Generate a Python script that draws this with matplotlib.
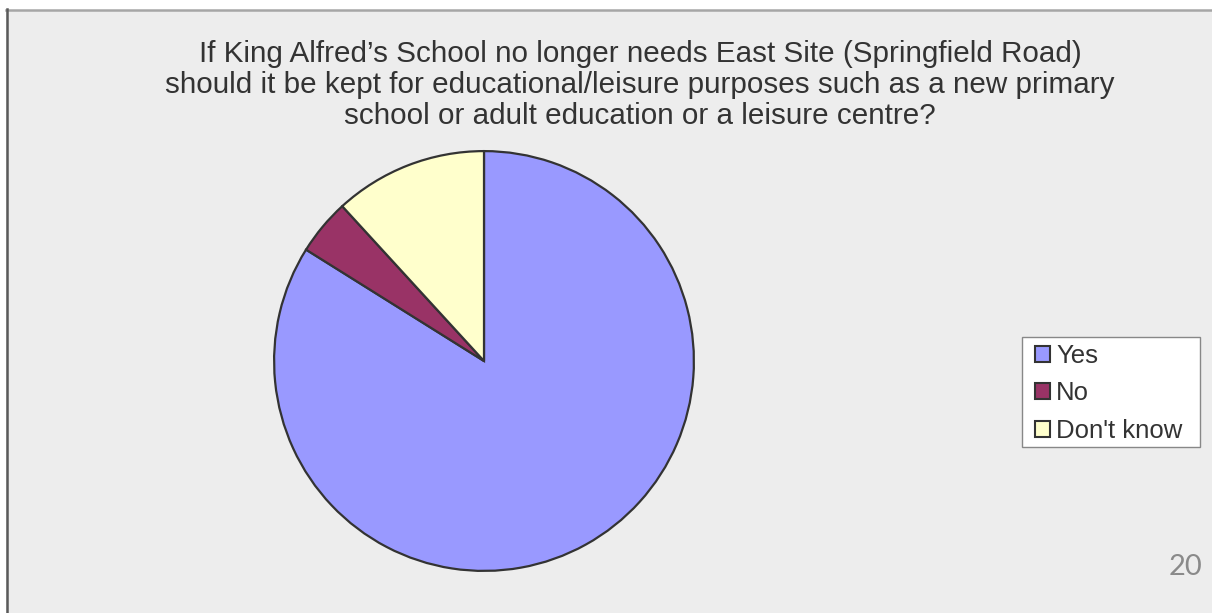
import matplotlib.pyplot as plt
from matplotlib.patches import Rectangle, Patch
from matplotlib.lines import Line2D

plt.rcParams['font.family'] = ['Liberation Sans', 'DejaVu Sans']

title = ("If King Alfred\u2019s School no longer needs East Site (Springfield Road)\n"
         "should it be kept for educational/leisure purposes such as a new primary\n"
         "school or adult education or a leisure centre?")
labels = ['Yes', 'No', "Don't know"]
shares = [83.9, 4.3, 11.8]
colors = ['#9999FF', '#993366', '#FFFFCC']
page_no = '20'

W, H = 1212, 613
fig = plt.figure(figsize=(W / 100, H / 100), dpi=100, facecolor='white')

# slide-ish background and border
fig.patches.append(Rectangle((6 / W, 0), 1 - 6 / W, 1 - 9.5 / H, transform=fig.transFigure,
                             facecolor='#EDEDED', edgecolor='none', zorder=-5))
fig.lines.append(Line2D([6 / W, 1], [1 - 9.5 / H, 1 - 9.5 / H], transform=fig.transFigure,
                        color='#A6A6A6', lw=1.8, zorder=-4))
fig.lines.append(Line2D([6.5 / W, 6.5 / W], [0, 1 - 9 / H], transform=fig.transFigure,
                        color='#5A5A5A', lw=1.8, zorder=-4))

# pie axes: center (484, 361), radius 212 px
cx, cy, r = 484, 361, 212
ax = fig.add_axes([(cx - r) / W, (H - cy - r) / H, 2 * r / W, 2 * r / H])
ax.set_zorder(2)
ax.set_axis_off()
wedges, _ = ax.pie(shares, colors=colors, startangle=90, counterclock=False, radius=1,
                   wedgeprops=dict(edgecolor='#333333', linewidth=1.6))
ax.set_xlim(-1.01, 1.01)
ax.set_ylim(-1.01, 1.01)

fig.text(640 / W, 1 - 85 / H, title, ha='center', va='center', fontsize=21.3,
         color='#333333', linespacing=1.13, multialignment='center')

# legend box drawn by hand so the padding matches
fig.patches.append(Rectangle((1022 / W, 1 - 447 / H), 178 / W, 110 / H, transform=fig.transFigure,
                             facecolor='white', edgecolor='#888888', lw=1.0, zorder=-3))
handles = [Patch(facecolor=c, edgecolor='#333333', linewidth=1.5) for c in colors]
leg = fig.legend(handles, labels, loc='upper left', bbox_to_anchor=(1035 / W, 1 - 344 / H),
                 frameon=False, fontsize=18.5,
                 handlelength=0.58, handleheight=0.58, handletextpad=0.25,
                 labelspacing=0.52, borderpad=0, borderaxespad=0,
                 labelcolor='#333333')
leg.set_zorder(3)

fig.text(1186 / W, 1 - 567 / H, page_no, ha='center', va='center', fontsize=21,
         color='#8A8A8A', family=['Lato', 'DejaVu Sans'])

fig.savefig('out.png', dpi=100, facecolor='white')
